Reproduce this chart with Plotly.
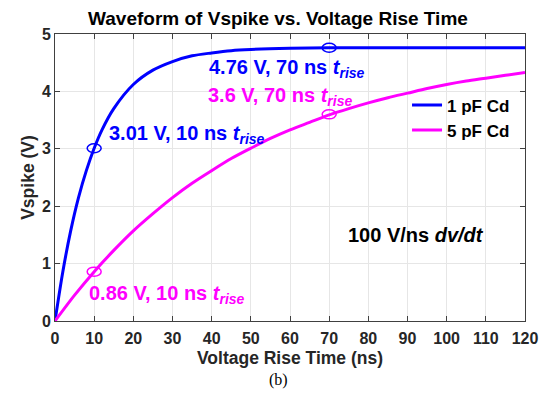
import plotly.graph_objects as go

# Data
t_1pf = [0, 2, 4, 6, 8, 10, 12, 15, 20, 25, 30, 35, 40, 45, 50, 60, 70, 80, 90, 100, 110, 120]
v_1pf = [0, 0.86, 1.57, 2.15, 2.62, 3.01, 3.33, 3.70, 4.12, 4.37, 4.52, 4.62, 4.67, 4.71, 4.73, 4.75, 4.76, 4.76, 4.76, 4.76, 4.76, 4.76]
t_5pf = [0, 5, 10, 15, 20, 25, 30, 35, 40, 45, 50, 55, 60, 65, 70, 75, 80, 85, 90, 95, 100, 105, 110, 115, 120]
v_5pf = [0, 0.45, 0.86, 1.23, 1.57, 1.87, 2.15, 2.40, 2.62, 2.83, 3.01, 3.18, 3.33, 3.46, 3.59, 3.70, 3.80, 3.89, 3.97, 4.05, 4.12, 4.18, 4.23, 4.28, 4.33]
series_names = ["1 pF Cd", "5 pF Cd"]
mark_x = [10, 70, 10, 70]
mark_y = [3.01, 4.76, 0.86, 3.6]
mark_series = [0, 0, 1, 1]
x_ticks = list(range(0, 121, 10))
y_ticks = [0, 1, 2, 3, 4, 5]

BLUE = "#0000FF"
MAG = "#FF00FF"
colors = [BLUE, MAG]
FONT = "Liberation Sans, Arial, sans-serif"
DARK = "#262626"

fig = go.Figure()
fig.add_trace(go.Scatter(x=t_1pf, y=v_1pf, mode="lines", name=series_names[0],
                         line=dict(color=BLUE, width=3, shape="spline", smoothing=0.8)))
fig.add_trace(go.Scatter(x=t_5pf, y=v_5pf, mode="lines", name=series_names[1],
                         line=dict(color=MAG, width=3, shape="spline", smoothing=0.8)))

shapes = []
for mx, my, s in zip(mark_x, mark_y, mark_series):
    shapes.append(dict(type="circle", xref="x", yref="y", xsizemode="pixel", ysizemode="pixel",
                       xanchor=mx, yanchor=my, x0=-7, x1=7, y0=-4.5, y1=4.5,
                       line=dict(color=colors[s], width=1.5)))

def lbl(v, t):
    return f"{v} V, {t} ns <i>t<sub>rise</sub></i>"

annotations = [
    dict(x=38.9, y=4.40, text=lbl("4.76", 70), font=dict(color=BLUE)),
    dict(x=38.6, y=3.91, text=lbl("3.6", 70), font=dict(color=MAG)),
    dict(x=13.3, y=3.25, text=lbl("3.01", 10), font=dict(color=BLUE)),
    dict(x=8.2, y=0.47, text=lbl("0.86", 10), font=dict(color=MAG)),
    dict(x=74.2, y=1.50, text="100 V/ns <i>dv/dt</i>", font=dict(color="black")),
]
for a in annotations:
    a.update(xref="x", yref="y", showarrow=False, xanchor="left", yanchor="middle")
    a["font"].update(family=FONT, size=20, weight="bold")
annotations.append(dict(xref="paper", yref="paper", x=0.475, y=-0.205, text="(b)", showarrow=False,
                        xanchor="center", yanchor="middle",
                        font=dict(family="Liberation Serif, Times New Roman, serif", size=16, color="black")))

axis_common = dict(showline=True, linecolor="#404040", linewidth=1, mirror="ticks",
                   ticks="inside", ticklen=5, tickcolor="#404040",
                   showgrid=True, gridcolor="#E6E6E6", gridwidth=1, zeroline=False,
                   tickfont=dict(family=FONT, size=16, color=DARK, weight="bold"))

fig.update_layout(
    width=544, height=403,
    margin=dict(l=55, r=19, t=34, b=82, autoexpand=False),
    paper_bgcolor="white", plot_bgcolor="white",
    title=dict(text="Waveform of Vspike vs. Voltage Rise Time", x=0.511, xanchor="center",
               y=1 - 18 / 403, yanchor="middle",
               font=dict(family=FONT, size=19, color="black", weight="bold")),
    xaxis=dict(range=[0, 120], tickvals=x_ticks, ticklabelstandoff=3,
               title=dict(text="Voltage Rise Time (ns)", standoff=5,
                          font=dict(family=FONT, size=17.5, color=DARK, weight="bold")),
               **axis_common),
    yaxis=dict(range=[0, 5], tickvals=y_ticks,
               title=dict(text="Vspike (V)", standoff=2,
                          font=dict(family=FONT, size=17.5, color=DARK, weight="bold")),
               **axis_common),
    legend=dict(x=0.749, y=0.814, xanchor="left", yanchor="top", bgcolor="rgba(255,255,255,0)",
                font=dict(family=FONT, size=17, color="black", weight="bold"), tracegroupgap=0),
    shapes=shapes,
    annotations=annotations,
    showlegend=True,
)
fig.write_html("out.html")
